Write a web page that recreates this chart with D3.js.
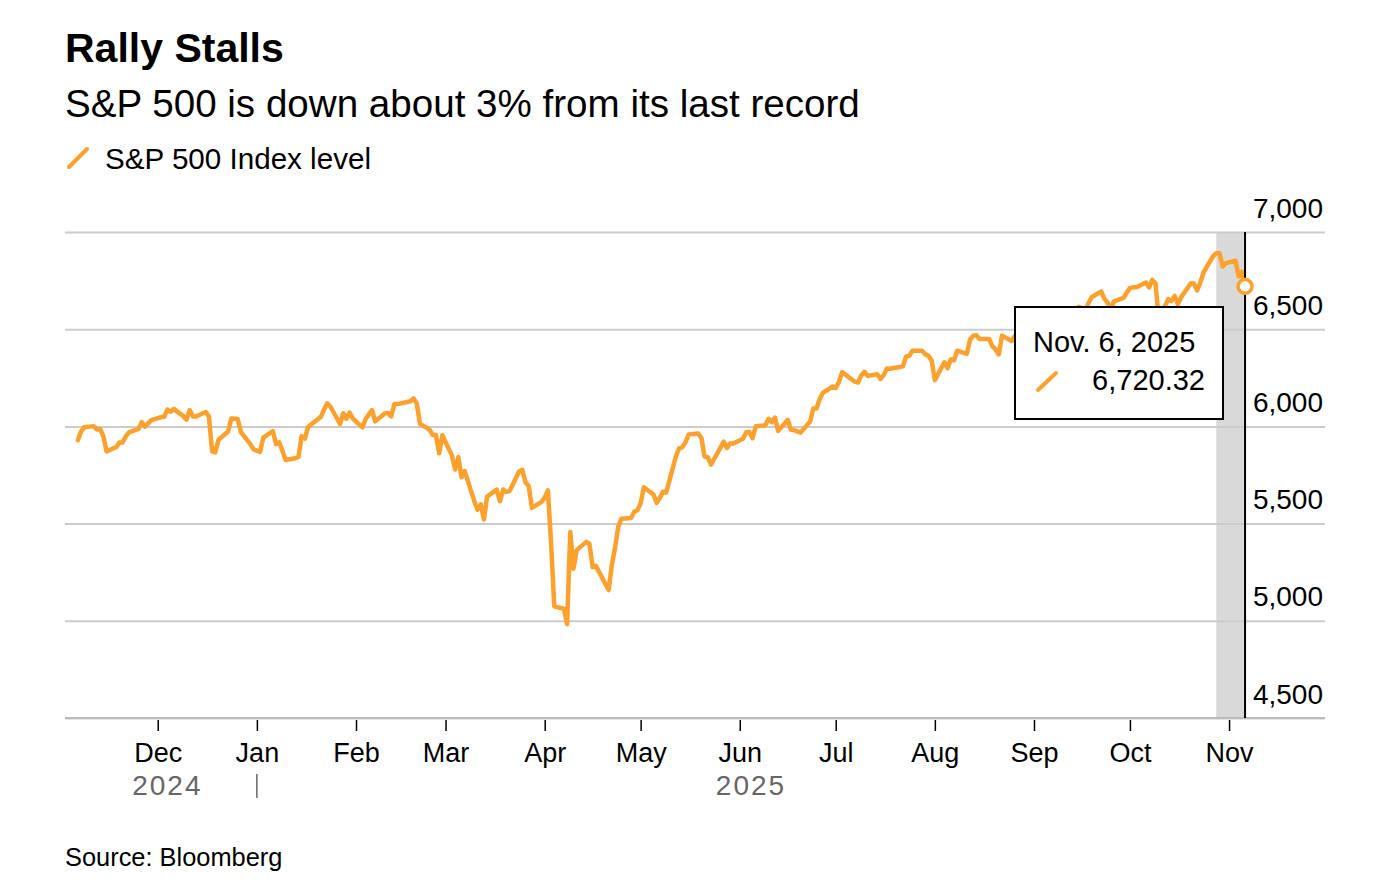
<!DOCTYPE html>
<html><head><meta charset="utf-8">
<script src="https://cdn.jsdelivr.net/npm/d3@7"></script>
<style>
body{margin:0;background:#fff;}
svg{display:block;font-family:"Liberation Sans",Arial,Helvetica,sans-serif;}
</style>
</head><body>
<svg id="chart" width="1400" height="880"></svg>
<script>
// ---------- DATA ----------
const dates = [
"2024-11-06","2024-11-07","2024-11-08","2024-11-11","2024-11-12","2024-11-13","2024-11-14","2024-11-15",
"2024-11-18","2024-11-19","2024-11-20","2024-11-21","2024-11-22","2024-11-25","2024-11-26","2024-11-27","2024-11-29",
"2024-12-02","2024-12-03","2024-12-04","2024-12-05","2024-12-06","2024-12-09","2024-12-10","2024-12-11","2024-12-12","2024-12-13",
"2024-12-16","2024-12-17","2024-12-18","2024-12-19","2024-12-20","2024-12-23","2024-12-24","2024-12-26","2024-12-27","2024-12-30","2024-12-31",
"2025-01-02","2025-01-03","2025-01-06","2025-01-07","2025-01-08","2025-01-10","2025-01-13","2025-01-14","2025-01-15","2025-01-16","2025-01-17",
"2025-01-21","2025-01-22","2025-01-23","2025-01-24","2025-01-27","2025-01-28","2025-01-29","2025-01-30","2025-01-31",
"2025-02-03","2025-02-04","2025-02-05","2025-02-06","2025-02-07","2025-02-10","2025-02-11","2025-02-12","2025-02-13","2025-02-14",
"2025-02-18","2025-02-19","2025-02-20","2025-02-21","2025-02-24","2025-02-25","2025-02-26","2025-02-27","2025-02-28",
"2025-03-03","2025-03-04","2025-03-05","2025-03-06","2025-03-07","2025-03-10","2025-03-11","2025-03-12","2025-03-13","2025-03-14",
"2025-03-17","2025-03-18","2025-03-19","2025-03-20","2025-03-21","2025-03-24","2025-03-25","2025-03-26","2025-03-27","2025-03-28","2025-03-31",
"2025-04-01","2025-04-02","2025-04-03","2025-04-04","2025-04-07","2025-04-08","2025-04-09","2025-04-10","2025-04-11",
"2025-04-14","2025-04-15","2025-04-16","2025-04-17","2025-04-21","2025-04-22","2025-04-23","2025-04-24","2025-04-25",
"2025-04-28","2025-04-29","2025-04-30","2025-05-01","2025-05-02","2025-05-05","2025-05-06","2025-05-07","2025-05-08","2025-05-09",
"2025-05-12","2025-05-13","2025-05-14","2025-05-15","2025-05-16","2025-05-19","2025-05-20","2025-05-21","2025-05-22","2025-05-23",
"2025-05-27","2025-05-28","2025-05-29","2025-05-30","2025-06-02","2025-06-03","2025-06-04","2025-06-05","2025-06-06",
"2025-06-09","2025-06-10","2025-06-11","2025-06-12","2025-06-13","2025-06-16","2025-06-17","2025-06-18","2025-06-20",
"2025-06-23","2025-06-24","2025-06-25","2025-06-26","2025-06-27","2025-06-30","2025-07-01","2025-07-02","2025-07-03",
"2025-07-07","2025-07-08","2025-07-09","2025-07-10","2025-07-11","2025-07-14","2025-07-15","2025-07-16","2025-07-17","2025-07-18",
"2025-07-21","2025-07-22","2025-07-23","2025-07-24","2025-07-25","2025-07-28","2025-07-29","2025-07-30","2025-07-31","2025-08-01",
"2025-08-04","2025-08-05","2025-08-06","2025-08-07","2025-08-08","2025-08-11","2025-08-12","2025-08-13","2025-08-14","2025-08-15",
"2025-08-18","2025-08-19","2025-08-20","2025-08-21","2025-08-22","2025-08-25","2025-08-26","2025-08-27","2025-08-28","2025-08-29",
"2025-09-02","2025-09-03","2025-09-04","2025-09-05","2025-09-08","2025-09-09","2025-09-10","2025-09-11","2025-09-12",
"2025-09-15","2025-09-16","2025-09-17","2025-09-18","2025-09-19","2025-09-22","2025-09-23","2025-09-24","2025-09-25","2025-09-26",
"2025-09-29","2025-09-30","2025-10-01","2025-10-02","2025-10-03","2025-10-06","2025-10-07","2025-10-08","2025-10-09","2025-10-10",
"2025-10-13","2025-10-14","2025-10-15","2025-10-16","2025-10-17","2025-10-20","2025-10-21","2025-10-22","2025-10-23","2025-10-24",
"2025-10-27","2025-10-28","2025-10-29","2025-10-30","2025-10-31","2025-11-03","2025-11-04","2025-11-05","2025-11-06"
];
const closes = [
5929.04,5973.10,5995.54,6001.35,5983.99,5985.38,5949.17,5870.62,
5893.62,5916.98,5917.11,5948.71,5969.34,5987.37,6021.63,5998.74,6032.38,
6047.15,6049.88,6086.49,6075.11,6090.27,6052.85,6034.91,6084.19,6051.25,6051.09,
6074.08,6050.61,5872.16,5867.08,5930.85,5974.07,6040.04,6037.59,5970.84,5906.94,5881.63,
5868.55,5942.47,5975.38,5909.03,5918.25,5827.04,5836.22,5842.91,5949.91,5937.34,5996.66,
6049.24,6086.37,6118.71,6101.24,6012.28,6067.70,6039.31,6071.17,6040.53,
5994.57,6037.88,6061.48,6083.57,6025.99,6066.44,6068.50,6051.97,6115.07,6114.63,
6129.58,6144.15,6117.52,6013.13,5983.25,5955.25,5956.06,5861.57,5954.50,
5849.72,5778.15,5842.63,5738.52,5770.20,5614.56,5572.07,5599.30,5521.52,5638.94,
5675.12,5614.66,5675.29,5662.89,5667.56,5767.57,5776.65,5712.20,5693.31,5580.94,5611.85,
5633.07,5670.97,5396.52,5074.08,5062.25,4982.77,5456.90,5268.05,5363.36,
5405.97,5396.63,5275.70,5282.70,5158.20,5287.76,5375.86,5484.77,5525.21,
5528.75,5560.83,5569.06,5604.14,5686.67,5650.38,5606.91,5631.28,5663.94,5659.91,
5844.19,5886.55,5892.58,5916.93,5958.38,5963.60,5940.46,5844.61,5842.01,5802.82,
5921.54,5888.55,5912.17,5911.69,5935.94,5970.37,5970.81,5939.30,6000.36,
6005.88,6038.81,6022.24,6045.26,5976.97,6033.11,5982.72,5980.87,5967.84,
6025.17,6092.18,6092.16,6141.02,6173.07,6204.95,6198.01,6227.42,6279.35,
6229.98,6225.52,6263.26,6280.46,6259.75,6268.56,6243.76,6263.70,6297.36,6296.79,
6305.60,6309.62,6358.91,6363.35,6388.64,6389.77,6370.86,6362.90,6339.39,6238.01,
6329.94,6299.19,6345.06,6340.00,6389.45,6373.45,6445.76,6466.58,6468.54,6449.80,
6449.15,6411.37,6395.78,6370.17,6466.91,6439.32,6465.94,6481.40,6501.86,6460.26,
6415.54,6448.26,6502.08,6481.50,6495.15,6512.61,6532.04,6587.47,6584.29,
6615.28,6606.76,6600.35,6631.96,6664.36,6693.75,6656.92,6637.97,6604.72,6643.70,
6661.21,6688.46,6711.20,6715.35,6715.79,6740.28,6714.59,6753.72,6735.11,6552.51,
6654.72,6644.31,6671.06,6629.07,6664.01,6735.13,6735.35,6699.40,6738.44,6791.69,
6875.16,6890.89,6890.59,6822.34,6840.20,6851.97,6771.55,6796.29,6720.32
];
const yTickValues = [4500, 5000, 5500, 6000, 6500, 7000];
const monthTicks = ["2024-12-01","2025-01-01","2025-02-01","2025-03-01","2025-04-01","2025-05-01",
                    "2025-06-01","2025-07-01","2025-08-01","2025-09-01","2025-10-01","2025-11-01"];
const yearLabels = ["2024", "2025"];
const yearStarts = ["2024-11-06", "2025-01-01"];
const yearEnds = ["2025-01-01", "2025-11-06"];
const recordDate = "2025-10-28";
const xDomain = ["2024-11-02", "2025-12-01"];
const seriesName = "S&P 500 Index level";

// ---------- SETUP ----------
const parse = d3.utcParse("%Y-%m-%d");
const data = dates.map((d, i) => ({date: parse(d), value: closes[i]}));
const last = data[data.length - 1];
const ORANGE = "#fea02c";

const svg = d3.select("#chart");
const pLeft = 65, pRight = 1325, pTop = 232, pBottom = 718;

const x = d3.scaleUtc().domain(xDomain.map(parse)).range([pLeft, pRight]);
const y = d3.scaleLinear().domain([4500, 7000]).range([pBottom, pTop]);

// Titles
svg.append("text").attr("x", 65).attr("y", 62)
  .attr("font-size", 41).attr("font-weight", 700).attr("fill", "#000")
  .text("Rally Stalls");
svg.append("text").attr("x", 65).attr("y", 117)
  .attr("font-size", 38.6).attr("fill", "#000")
  .text("S&P 500 is down about 3% from its last record");

// Legend
svg.append("line").attr("x1", 69).attr("y1", 167).attr("x2", 87).attr("y2", 149)
  .attr("stroke", ORANGE).attr("stroke-width", 4).attr("stroke-linecap", "round");
svg.append("text").attr("x", 105).attr("y", 169)
  .attr("font-size", 29.6).attr("fill", "#000").text(seriesName);

// Shaded band
svg.append("rect")
  .attr("x", x(parse(recordDate))).attr("y", pTop)
  .attr("width", x(last.date) - x(parse(recordDate))).attr("height", pBottom - pTop)
  .attr("fill", "#d9d9d9");

// Y grid + labels
const yAxis = svg.append("g").attr("transform", `translate(${pRight},0)`)
  .call(d3.axisLeft(y).tickValues(yTickValues).tickSize(pRight - pLeft).tickFormat(d3.format(",")));
yAxis.select(".domain").remove();
yAxis.selectAll(".tick line").attr("stroke", "#cccccc").attr("stroke-width", 2);
yAxis.selectAll(".tick text")
  .attr("x", -2).attr("dy", -15).attr("text-anchor", "end")
  .attr("font-size", 28).attr("fill", "#000")
  .attr("font-family", "Liberation Sans, Arial, sans-serif");

// X axis
const xAxis = svg.append("g").attr("transform", `translate(0,${pBottom})`)
  .call(d3.axisBottom(x).tickValues(monthTicks.map(parse)).tickSize(13).tickPadding(12)
    .tickFormat(d3.utcFormat("%b")));
xAxis.select(".domain").attr("stroke", "#bbbbbb").attr("stroke-width", 2)
  .attr("d", `M${pLeft},0H${pRight}`);
xAxis.selectAll(".tick line").attr("stroke", "#000").attr("stroke-width", 1.5).attr("y1", 2);
xAxis.selectAll(".tick text").attr("font-size", 27).attr("fill", "#000")
  .attr("font-family", "Liberation Sans, Arial, sans-serif");

// Year labels
yearLabels.forEach((lab, i) => {
  const cx = (x(parse(yearStarts[i])) + x(parse(yearEnds[i]))) / 2;
  svg.append("text").attr("x", cx).attr("y", 795).attr("text-anchor", "middle")
    .attr("font-size", 28).attr("letter-spacing", 2).attr("fill", "#666").text(lab);
});
svg.append("line").attr("x1", x(parse("2025-01-01"))).attr("x2", x(parse("2025-01-01")))
  .attr("y1", 774).attr("y2", 798).attr("stroke", "#666").attr("stroke-width", 1.5);

// Line
const line = d3.line().x(d => x(d.date)).y(d => y(d.value));
svg.append("path").datum(data).attr("d", line)
  .attr("fill", "none").attr("stroke", ORANGE).attr("stroke-width", 4.5)
  .attr("stroke-linejoin", "round").attr("stroke-linecap", "round");

// Vertical cursor line
svg.append("line").attr("x1", x(last.date)).attr("x2", x(last.date))
  .attr("y1", pTop).attr("y2", pBottom).attr("stroke", "#000").attr("stroke-width", 2);

// Endpoint marker
svg.append("circle").attr("cx", x(last.date)).attr("cy", y(last.value)).attr("r", 7)
  .attr("fill", "#fff").attr("stroke", ORANGE).attr("stroke-width", 3.5);

// Tooltip
const tip = svg.append("g");
tip.append("rect").attr("x", 1015).attr("y", 307).attr("width", 208).attr("height", 112)
  .attr("fill", "#fff").attr("stroke", "#000").attr("stroke-width", 2);
tip.append("text").attr("x", 1033).attr("y", 352).attr("font-size", 29).attr("fill", "#000")
  .text(d3.utcFormat("%b. %-d, %Y")(last.date));
tip.append("line").attr("x1", 1038).attr("y1", 390).attr("x2", 1056).attr("y2", 373)
  .attr("stroke", ORANGE).attr("stroke-width", 4).attr("stroke-linecap", "round");
tip.append("text").attr("x", 1205).attr("y", 390).attr("text-anchor", "end")
  .attr("font-size", 29).attr("fill", "#000").text(d3.format(",.2f")(last.value));

// Source
svg.append("text").attr("x", 65).attr("y", 866).attr("font-size", 25.4).attr("fill", "#000")
  .text("Source: Bloomberg");
</script>
</body></html>
